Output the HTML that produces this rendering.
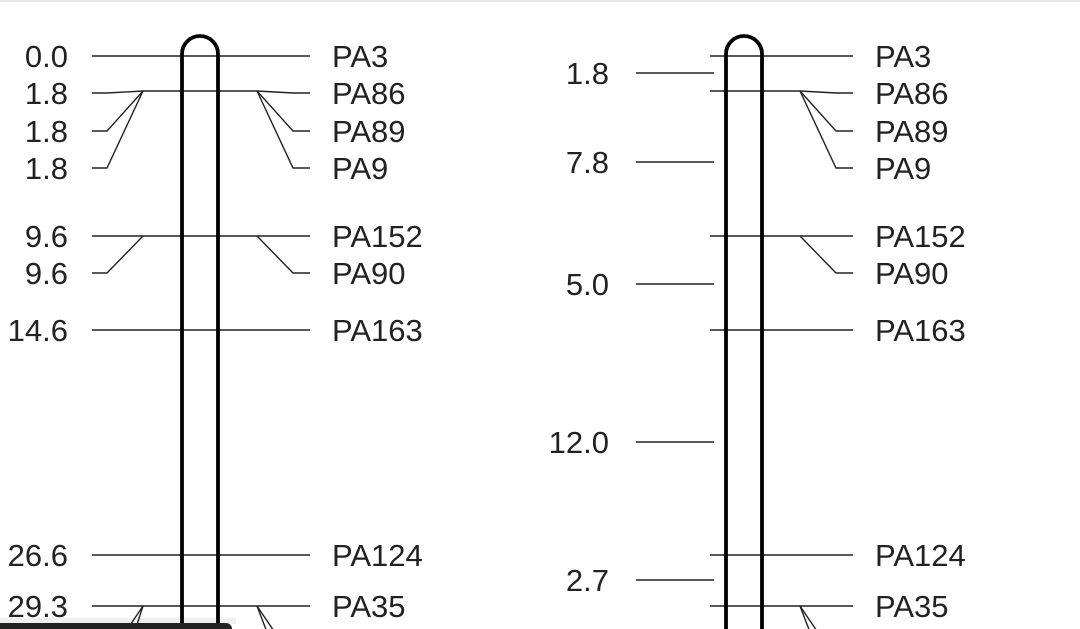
<!DOCTYPE html>
<html><head><meta charset="utf-8"><style>
html,body{margin:0;padding:0;background:#fff;overflow:hidden}
svg{display:block}
text{font-family:"Liberation Sans",sans-serif;font-size:31px;fill:#222}
</style></head><body>
<svg width="1080" height="629" viewBox="0 0 1080 629" xmlns="http://www.w3.org/2000/svg">
<rect x="0" y="0" width="1080" height="2" fill="#e6e6e6"/>
<g stroke="#222" stroke-width="1.4" fill="none">
<line x1="92" y1="56" x2="310" y2="56"/>
<polyline points="92,93 107,93 143,91 257,91 293,93 310,93"/>
<polyline points="92,131 107,131 143,91"/>
<polyline points="92,168 107,168 143,91"/>
<polyline points="257,91 293,131 310,131"/>
<polyline points="257,91 293,168 310,168"/>
<line x1="92" y1="236" x2="310" y2="236"/>
<polyline points="92,273 107,273 143,236"/>
<polyline points="257,236 293,273 310,273"/>
<line x1="92" y1="330" x2="310" y2="330"/>
<line x1="92" y1="555" x2="310" y2="555"/>
<line x1="92" y1="606" x2="310" y2="606"/>
<polyline points="143,606 120,640"/>
<polyline points="143,606 132,640"/>
<polyline points="257,606 280,640"/>
<polyline points="257,606 270,640"/>
<line x1="710" y1="56" x2="853" y2="56"/>
<polyline points="710,91 800,91 836,93 853,93"/>
<polyline points="800,91 836,131 853,131"/>
<polyline points="800,91 836,168 853,168"/>
<line x1="710" y1="236" x2="853" y2="236"/>
<polyline points="800,236 836,273 853,273"/>
<line x1="710" y1="330" x2="853" y2="330"/>
<line x1="710" y1="555" x2="853" y2="555"/>
<line x1="710" y1="606" x2="853" y2="606"/>
<polyline points="800,606 823,640"/>
<polyline points="800,606 813,640"/>
<line x1="636" y1="73" x2="714" y2="73"/>
<line x1="636" y1="162" x2="714" y2="162"/>
<line x1="636" y1="284" x2="714" y2="284"/>
<line x1="636" y1="442" x2="714" y2="442"/>
<line x1="636" y1="580" x2="714" y2="580"/>
</g>
<g stroke="#000" stroke-width="3.8" fill="none">
<path d="M182,640 L182,54 A18,18 0 0 1 218,54 L218,640"/>
<path d="M726,640 L726,54 A18,18 0 0 1 762,54 L762,640"/>
</g>
<g text-anchor="end">
<text x="68" y="67">0.0</text>
<text x="68" y="104">1.8</text>
<text x="68" y="142">1.8</text>
<text x="68" y="179">1.8</text>
<text x="68" y="247">9.6</text>
<text x="68" y="284">9.6</text>
<text x="68" y="341">14.6</text>
<text x="68" y="566">26.6</text>
<text x="68" y="617">29.3</text>
<text x="609" y="84">1.8</text>
<text x="609" y="173">7.8</text>
<text x="609" y="295">5.0</text>
<text x="609" y="453">12.0</text>
<text x="609" y="591">2.7</text>
</g>
<g>
<text x="332" y="67">PA3</text>
<text x="332" y="104">PA86</text>
<text x="332" y="142">PA89</text>
<text x="332" y="179">PA9</text>
<text x="332" y="247">PA152</text>
<text x="332" y="284">PA90</text>
<text x="332" y="341">PA163</text>
<text x="332" y="566">PA124</text>
<text x="332" y="617">PA35</text>
<text x="875" y="67">PA3</text>
<text x="875" y="104">PA86</text>
<text x="875" y="142">PA89</text>
<text x="875" y="179">PA9</text>
<text x="875" y="247">PA152</text>
<text x="875" y="284">PA90</text>
<text x="875" y="341">PA163</text>
<text x="875" y="566">PA124</text>
<text x="875" y="617">PA35</text>
</g>
<rect x="0" y="618" width="236" height="6" fill="#000" opacity="0.06"/>
<path d="M0,623 L226,623 A6,6 0 0 1 232,629 L0,629 Z" fill="#222"/>
</svg>
</body></html>
